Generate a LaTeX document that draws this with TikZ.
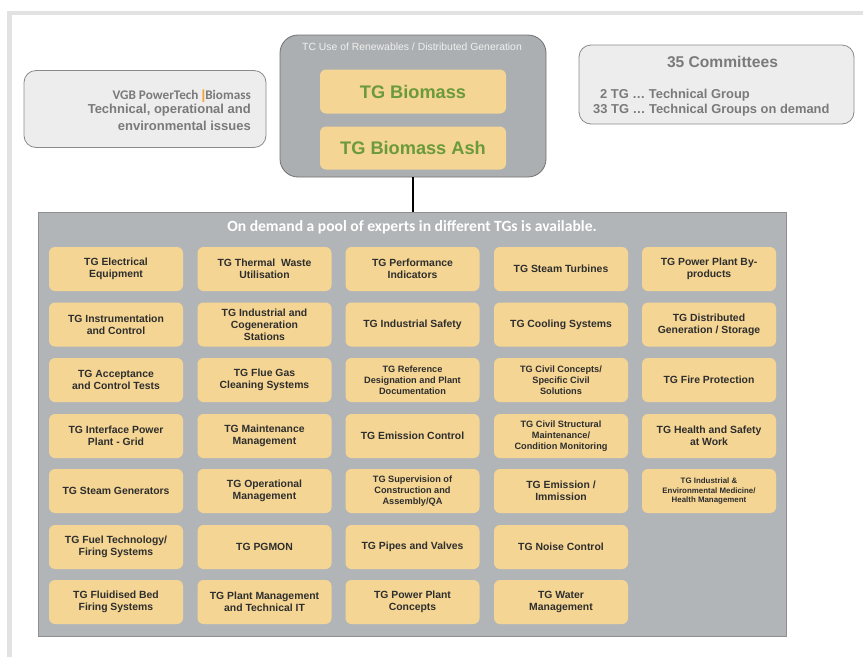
\documentclass[tikz,border=0pt]{standalone}
\usepackage{fontspec}
\setmainfont{Liberation Sans}
\newfontfamily\carlito{Carlito}
\definecolor{framegray}{HTML}{E2E2E2}
\definecolor{cellfill}{HTML}{F4D593}
\definecolor{celltext}{HTML}{2E2E2E}
\definecolor{poolfill}{HTML}{B2B5B8}
\definecolor{poolline}{HTML}{8E8F91}
\definecolor{tcfill}{HTML}{ACAFB2}
\definecolor{tcline}{HTML}{707070}
\definecolor{infofill}{HTML}{EDEDED}
\definecolor{infoline}{HTML}{8A8A8A}
\definecolor{infotext}{HTML}{7A7A7A}
\definecolor{greentext}{HTML}{6B9A3C}
\definecolor{vgborange}{HTML}{F7A033}
\tikzset{
  cellbox/.style={rectangle, rounded corners=6pt, fill=cellfill, draw=none,
    minimum width=134pt, minimum height=44pt, align=center, text=celltext,
    inner sep=2pt, font=\bfseries\fontsize{10.4}{12}\selectfont},
  cellsmall/.style={cellbox, font=\bfseries\fontsize{9.2}{11}\selectfont},
  celltiny/.style={cellbox, font=\bfseries\fontsize{7.9}{9.5}\selectfont},
  bigcell/.style={rectangle, rounded corners=6pt, fill=cellfill, draw=none,
    minimum width=186pt, minimum height=44pt, text=greentext,
    font=\bfseries\fontsize{18.2}{20}\selectfont},
  infobox/.style={rectangle, rounded corners=12pt, fill=infofill, draw=infoline,
    line width=0.8pt},
  infotxt/.style={text=infotext, inner sep=0pt, font=\bfseries\fontsize{13}{15}\selectfont},
}
\begin{document}
\begin{tikzpicture}[x=1pt,y=-1pt]
\useasboundingbox (0,0) rectangle (863,657);
% slide frame
\fill[framegray] (7,11) rectangle (863,15);
\fill[framegray] (7,11) rectangle (12,657);

% left info box
\node[infobox, minimum width=242pt, minimum height=77pt] (vgb) at (145,109) {};
\node[anchor=east, inner sep=0pt, text=infotext,
  font=\carlito\bfseries\fontsize{13.2}{14}\selectfont] (vgbtitle) at (251,96)
  {VGB PowerTech {\rmfamily\bfseries\textcolor{vgborange}{|}}Biomass};
\node[infotxt, anchor=east] (vgbl1) at (251,110) {Technical, operational and};
\node[infotxt, anchor=east] (vgbl2) at (251,126) {environmental issues};

% centre TC box
\node[rectangle, rounded corners=18pt, fill=tcfill, draw=tcline, line width=0.8pt,
  minimum width=266pt, minimum height=142pt] (tc) at (413,106) {};
\node[text=white!94!black, inner sep=0pt, font=\fontsize{10.4}{12}\selectfont] (tctitle) at (412,47)
  {TC Use of Renewables / Distributed Generation};
\node[bigcell] (biomass) at (413,91.5) {TG Biomass};
\node[bigcell, minimum height=43pt] (biomassash) at (413,148) {TG Biomass Ash};

% right info box
\node[infobox, minimum width=275pt, minimum height=79pt] (committees) at (716.5,84.5) {};
\node[text=infotext, inner sep=0pt, font=\bfseries\fontsize{15.6}{18}\selectfont] (comtitle) at (722.5,62) {35 Committees};
\node[infotxt, anchor=west, font=\bfseries\fontsize{12.9}{15}\selectfont] (coml1) at (600,95) {2 TG … Technical Group};
\node[infotxt, anchor=west, font=\bfseries\fontsize{12.9}{15}\selectfont] (coml2) at (593,110) {33 TG … Technical Groups on demand};

% pool box
\node[rectangle, fill=poolfill, draw=poolline, line width=1pt,
  minimum width=748pt, minimum height=424pt] (pool) at (412,424) {};
\node[text=white, inner sep=0pt, font=\carlito\bfseries\fontsize{15.6}{18}\selectfont] (pooltitle) at (412,227)
  {On demand a pool of experts in different TGs is available.};

% connector
\draw[line width=1.6pt, black] (tc.south) -- (tc.south |- pool.north);

% row 1
\node[cellbox] (c11) at (116,269) {TG Electrical\\Equipment};
\node[cellbox] (c12) at (264.5,269) {TG Thermal\ \ Waste\\Utilisation};
\node[cellbox] (c13) at (412.5,269) {TG Performance\\Indicators};
\node[cellbox] (c14) at (561,269) {TG Steam Turbines};
\node[cellbox] (c15) at (709,269) {TG Power Plant By-\\products};
% row 2
\node[cellbox] (c21) at (116,324.5) {TG Instrumentation\\and Control};
\node[cellbox] (c22) at (264.5,324.5) {TG Industrial and\\Cogeneration\\Stations};
\node[cellbox] (c23) at (412.5,324.5) {TG Industrial Safety};
\node[cellbox] (c24) at (561,324.5) {TG Cooling Systems};
\node[cellbox] (c25) at (709,324.5) {TG Distributed\\Generation / Storage};
% row 3
\node[cellbox] (c31) at (116,380) {TG Acceptance\\and Control Tests};
\node[cellbox] (c32) at (264.5,380) {TG Flue Gas\\Cleaning Systems};
\node[cellsmall] (c33) at (412.5,380) {TG Reference\\Designation and Plant\\Documentation};
\node[cellsmall] (c34) at (561,380) {TG Civil Concepts/\\Specific Civil\\Solutions};
\node[cellbox] (c35) at (709,380) {TG Fire Protection};
% row 4
\node[cellbox] (c41) at (116,436) {TG Interface Power\\Plant - Grid};
\node[cellbox] (c42) at (264.5,436) {TG Maintenance\\Management};
\node[cellbox] (c43) at (412.5,436) {TG Emission Control};
\node[cellsmall] (c44) at (561,436) {TG Civil Structural\\Maintenance/\\Condition Monitoring};
\node[cellbox] (c45) at (709,436) {TG Health and Safety\\at Work};
% row 5
\node[cellbox] (c51) at (116,491) {TG Steam Generators};
\node[cellbox] (c52) at (264.5,491) {TG Operational\\Management};
\node[cellsmall] (c53) at (412.5,491) {TG Supervision of\\Construction and\\Assembly/QA};
\node[cellbox] (c54) at (561,491) {TG Emission /\\Immission};
\node[celltiny] (c55) at (709,491) {TG Industrial \&\\Environmental Medicine/\\Health Management};
% row 6
\node[cellbox] (c61) at (116,547) {TG Fuel Technology/\\Firing Systems};
\node[cellbox] (c62) at (264.5,547) {TG PGMON};
\node[cellbox] (c63) at (412.5,547) {TG Pipes and Valves};
\node[cellbox] (c64) at (561,547) {TG Noise Control};
% row 7
\node[cellbox] (c71) at (116,602) {TG Fluidised Bed\\Firing Systems};
\node[cellbox] (c72) at (264.5,602) {TG Plant Management\\and Technical IT};
\node[cellbox] (c73) at (412.5,602) {TG Power Plant\\Concepts};
\node[cellbox] (c74) at (561,602) {TG Water\\Management};
\end{tikzpicture}
\end{document}
